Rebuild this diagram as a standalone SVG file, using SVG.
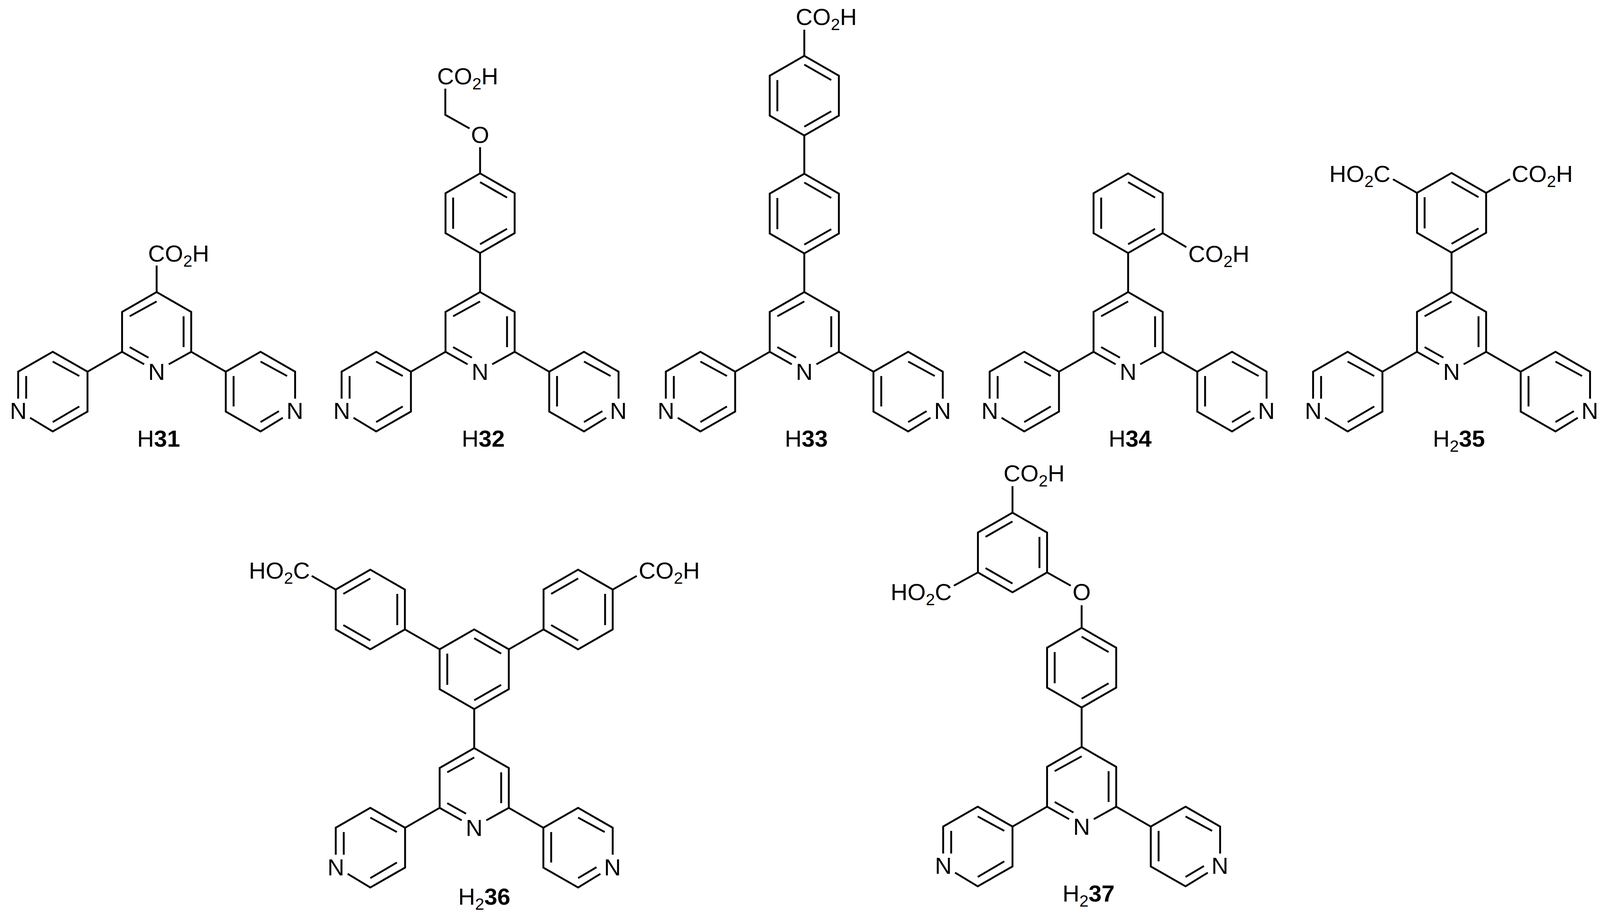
<svg xmlns="http://www.w3.org/2000/svg" xmlns:xlink="http://www.w3.org/1999/xlink" width="4110" height="2346" viewBox="0 0 4110 2346">
<style>
rect.bg{fill:#fff}
.b,use{fill:none;stroke:#000;stroke-width:4.8;stroke-linejoin:miter;stroke-linecap:butt}
text{font-family:"Liberation Sans",Arial,sans-serif;font-size:60px;fill:#000;stroke:none}
.m{text-anchor:middle}
.s{font-size:42px}
.d{font-weight:bold}
</style>
<defs>
<path id="hex" d="M0,-102L88.5,-51V51L0,102L-88.5,51V-51Z"/>
<path id="dA" d="M0,-79.5L69,-40M-69,-40V40M0,79.5L69,40"/>
<path id="dB" d="M0,-79.5L-69,-40M69,-40V40M0,79.5L-69,40"/>
<path id="terpy" d="M-32,185L-88.5,153V51L0,0L88.5,51V153L31,185M0,24L-69,62M69,62V141M-69,141L-21,168M-88.5,153L-177,204M88.5,153L177,204M-354.5,273V204L-266,153L-177,204V306L-266,357L-324,322M-266,178L-198,215M-198,293L-266,333M-334,215V273M354.5,273V204L266,153L177,204V306L266,357L323,322M266,178L334,215M197,215V293M266,333L313,305"/>
</defs>
<rect class="bg" width="4110" height="2346"/>

<g id="H31">
<use href="#terpy" x="401" y="748"/>
<path class="b" d="M401,748V680"/>
<text x="379" y="670">CO<tspan class="s" dy="13">2</tspan><tspan dy="-13">H</tspan></text>
<text class="m" x="401" y="973">N</text><text class="m" x="47" y="1073">N</text><text class="m" x="755" y="1073">N</text>
<text x="351" y="1144">H<tspan class="d">31</tspan></text>
</g>

<g id="H32">
<use href="#terpy" x="1229" y="748"/>
<use href="#hex" x="1229" y="546"/><use href="#dA" x="1229" y="546"/>
<path class="b" d="M1229,648V748M1229,377V444M1140,227V294L1202,329"/>
<text x="1119" y="216">CO<tspan class="s" dy="13">2</tspan><tspan dy="-13">H</tspan></text>
<text class="m" x="1229" y="366">O</text>
<text class="m" x="1229" y="973">N</text><text class="m" x="875" y="1073">N</text><text class="m" x="1583" y="1073">N</text>
<text x="1182" y="1144">H<tspan class="d">32</tspan></text>
</g>

<g id="H33">
<use href="#terpy" x="2059" y="748"/>
<use href="#hex" x="2059" y="547"/><use href="#dA" x="2059" y="547"/>
<use href="#hex" x="2059" y="245"/><use href="#dA" x="2059" y="245"/>
<path class="b" d="M2059,649V748M2059,347V445M2059,143V76"/>
<text x="2037" y="64">CO<tspan class="s" dy="13">2</tspan><tspan dy="-13">H</tspan></text>
<text class="m" x="2059" y="973">N</text><text class="m" x="1705" y="1073">N</text><text class="m" x="2413" y="1073">N</text>
<text x="2009" y="1144">H<tspan class="d">33</tspan></text>
</g>

<g id="H34">
<use href="#terpy" x="2888" y="748"/>
<use href="#hex" x="2888" y="546"/><use href="#dA" x="2888" y="546"/>
<path class="b" d="M2888,648V748M2976.5,597L3037,633"/>
<text x="3042" y="671">CO<tspan class="s" dy="13">2</tspan><tspan dy="-13">H</tspan></text>
<text class="m" x="2888" y="973">N</text><text class="m" x="2534" y="1073">N</text><text class="m" x="3242" y="1073">N</text>
<text x="2838" y="1144">H<tspan class="d">34</tspan></text>
</g>

<g id="H235">
<use href="#terpy" x="3716" y="748"/>
<use href="#hex" x="3716" y="545"/><use href="#dA" x="3716" y="545"/>
<path class="b" d="M3716,647V748M3627.5,494L3566,459M3804.5,494L3866,459"/>
<text x="3403" y="466">HO<tspan class="s" dy="13">2</tspan><tspan dy="-13">C</tspan></text>
<text x="3870" y="466">CO<tspan class="s" dy="13">2</tspan><tspan dy="-13">H</tspan></text>
<text class="m" x="3716" y="973">N</text><text class="m" x="3362" y="1073">N</text><text class="m" x="4070" y="1073">N</text>
<text x="3668" y="1144">H<tspan class="s" dy="13">2</tspan><tspan class="d" dy="-13">35</tspan></text>
</g>

<g id="H236">
<use href="#terpy" x="1214" y="1916"/>
<use href="#hex" x="1214" y="1714"/><use href="#dA" x="1214" y="1714"/>
<use href="#hex" x="948" y="1561"/><use href="#dB" x="948" y="1561"/>
<use href="#hex" x="1480" y="1561"/><use href="#dB" x="1480" y="1561"/>
<path class="b" d="M1214,1816V1916M1125.5,1663L1036.5,1612M1302.5,1663L1391.5,1612M859.5,1510L798,1475M1568.5,1510L1630,1475"/>
<text x="637" y="1482">HO<tspan class="s" dy="13">2</tspan><tspan dy="-13">C</tspan></text>
<text x="1635" y="1482">CO<tspan class="s" dy="13">2</tspan><tspan dy="-13">H</tspan></text>
<text class="m" x="1214" y="2141">N</text><text class="m" x="860" y="2242">N</text><text class="m" x="1568" y="2242">N</text>
<text x="1173" y="2317">H<tspan class="s" dy="13">2</tspan><tspan class="d" dy="-13">36</tspan></text>
</g>

<g id="H237">
<use href="#terpy" x="2769" y="1913"/>
<use href="#hex" x="2769" y="1710"/><use href="#dA" x="2769" y="1710"/>
<use href="#hex" x="2592" y="1415"/><use href="#dB" x="2592" y="1415"/>
<path class="b" d="M2769,1812V1913M2769,1550V1608M2592,1313V1245M2503.5,1466L2442,1500M2680.5,1466L2741,1500"/>
<text x="2569" y="1233">CO<tspan class="s" dy="13">2</tspan><tspan dy="-13">H</tspan></text>
<text x="2280" y="1537">HO<tspan class="s" dy="13">2</tspan><tspan dy="-13">C</tspan></text>
<text class="m" x="2769" y="1537">O</text>
<text class="m" x="2769" y="2138">N</text><text class="m" x="2415" y="2238">N</text><text class="m" x="3123" y="2238">N</text>
<text x="2720" y="2309">H<tspan class="s" dy="13">2</tspan><tspan class="d" dy="-13">37</tspan></text>
</g>
</svg>
